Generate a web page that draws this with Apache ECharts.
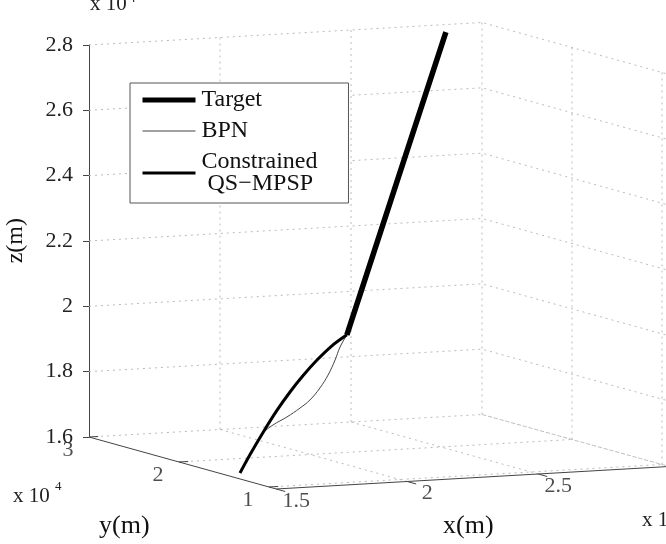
<!DOCTYPE html>
<html>
<head>
<meta charset="utf-8">
<script src="https://cdn.jsdelivr.net/npm/echarts@6/dist/echarts.min.js"></script>
<style>html,body{margin:0;padding:0;background:#fff}#c{width:666px;height:544px}</style>
</head>
<body>
<div id="c"></div>
<script>
// ---- data (units of 1e4 m) ----
const X_TICKS = [1.5, 2, 2.5, 3];
const Y_TICKS = [1, 2, 3];
const Z_TICKS = [1.6, 1.8, 2.0, 2.2, 2.4, 2.6, 2.8];
const X_RANGE = [1.5, 3];
const Y_RANGE = [0.92, 3];
const Z_RANGE = [1.6, 2.8];

const targetX = [1.969, 2.373, 2.777];
const targetY = [1.50, 2.126, 2.752];
const targetZ = [2.006, 2.403, 2.800];

const bpnX = [1.561, 1.592, 1.618, 1.649, 1.687, 1.740, 1.790, 1.828, 1.866, 1.897, 1.924, 1.943, 1.969];
const bpnY = [1.5, 1.5, 1.5, 1.5, 1.5, 1.5, 1.5, 1.5, 1.5, 1.5, 1.5, 1.5, 1.5];
const bpnZ = [1.602, 1.646, 1.685, 1.720, 1.743, 1.765, 1.790, 1.813, 1.848, 1.886, 1.931, 1.970, 2.006];

const qsX = [1.561, 1.599, 1.649, 1.702, 1.752, 1.802, 1.855, 1.912, 1.969];
const qsY = [1.5, 1.5, 1.5, 1.5, 1.5, 1.5, 1.5, 1.5, 1.5];
const qsZ = [1.602, 1.656, 1.722, 1.787, 1.841, 1.889, 1.934, 1.975, 2.006];

// ---- orthographic view (pixels per unit along each 3D axis) ----
const VIEW = {xh: 262, xv: 15, yh: 90, yv: 25, zv: 326.7};
function proj(x, y, z) {
  const a = x - X_RANGE[0], b = Y_RANGE[1] - y;
  return [a + b * VIEW.yh / VIEW.xh, z + (VIEW.xv * a - VIEW.yv * b) / VIEW.zv];
}
function pts(xs, ys, zs) { return xs.map((x, i) => proj(x, ys[i], zs[i])); }

const BRK = ['-', '-'];
function segs(list) { const out = []; list.forEach((s, i) => { if (i) out.push(BRK); s.forEach(p => out.push(p)); }); return out; }

const [x0, x1] = X_RANGE, [y0, y1] = Y_RANGE, [z0, z1] = Z_RANGE;
const gridSegs = [];
Z_TICKS.forEach(z => { gridSegs.push([proj(x0, y1, z), proj(x1, y1, z), proj(x1, y0, z)]); });
X_TICKS.filter(x => x > x0).forEach(x => {
  gridSegs.push([proj(x, y1, z0), proj(x, y1, z1)]);
  gridSegs.push([proj(x, y0, z0), proj(x, y1, z0)]);
});
Y_TICKS.filter(y => y < y1).forEach(y => {
  gridSegs.push([proj(x1, y, z0), proj(x1, y, z1)]);
  gridSegs.push([proj(x0, y, z0), proj(x1, y, z0)]);
});
const axisSegs = [[proj(x0, y1, z0), proj(x0, y0, z0), proj(x1, y0, z0)]];
X_TICKS.forEach(x => axisSegs.push([proj(x, y0, z0), proj(x, y0 - 0.1, z0)]));
Y_TICKS.forEach(y => axisSegs.push([proj(x0, y, z0), proj(x0 + 0.035, y, z0)]));

const serif = 'Liberation Serif';
const labelStyle = {show: true, fontFamily: serif, fontSize: 22, color: '#222'};
const AX_SCALE = VIEW.xh; // px per horizontal unit
const AX_MAX = 2.3;

const chart = echarts.init(document.getElementById('c'), null, {renderer: 'canvas'});
chart.setOption({
  animation: false,
  backgroundColor: '#fff',
  grid: {left: 89, top: 45, bottom: 107, width: AX_SCALE * AX_MAX, outerBoundsMode: 'none', containLabel: false},
  xAxis: {type: 'value', min: 0, max: AX_MAX, show: false},
  yAxis: {
    type: 'value', min: z0, max: z1, interval: 0.2,
    axisLine: {show: true, lineStyle: {color: '#444', width: 1}},
    axisTick: {show: true, length: 6, lineStyle: {color: '#444'}},
    axisLabel: {margin: 16, fontFamily: serif, fontSize: 22, color: '#222'},
    splitLine: {show: false}
  },
  legend: {
    left: 130, top: 83, orient: 'vertical',
    data: [
      {name: 'Target', lineStyle: {width: 5, color: '#000'}, itemStyle: {opacity: 0}},
      {name: 'BPN', lineStyle: {width: 1, color: '#444'}, itemStyle: {opacity: 0}},
      {name: 'Constrained QS−MPSP', lineStyle: {width: 3, color: '#000'}, itemStyle: {opacity: 0}}
    ],
    formatter: n => n === 'Constrained QS−MPSP' ? 'Constrained\n QS−MPSP' : n,
    itemWidth: 53, itemHeight: 10, itemGap: 7,
    padding: [5, 31, 7, 10],
    backgroundColor: '#fff', borderColor: '#555', borderWidth: 1,
    textStyle: {fontFamily: serif, fontSize: 24, color: '#111', lineHeight: 22, padding: [0, 0, 0, 1]}
  },
  series: [
    {type: 'line', name: 'grid', silent: true, clip: false, symbol: 'none', z: 1,
     data: segs(gridSegs), lineStyle: {color: '#bbb', width: 1, type: [2, 4]}},
    {type: 'line', name: 'axes', silent: true, clip: false, symbol: 'none', z: 2,
     data: segs(axisSegs), lineStyle: {color: '#444', width: 1}},
    {type: 'scatter', name: 'ylabels', silent: true, clip: false, symbolSize: 0,
     data: Y_TICKS.map(y => ({value: proj(x0, y, z0), name: String(y)})),
     label: Object.assign({}, labelStyle, {position: 'inside', offset: [-21, 13], formatter: p => p.name})},
    {type: 'scatter', name: 'xlabels', silent: true, clip: false, symbolSize: 0,
     data: X_TICKS.map(x => ({value: proj(x, y0, z0), name: String(x)})),
     label: Object.assign({}, labelStyle, {position: 'inside', offset: [20, 12], formatter: p => p.name})},
    {type: 'line', name: 'BPN', clip: false, symbol: 'none', smooth: 0.4, z: 3,
     data: pts(bpnX, bpnY, bpnZ), lineStyle: {color: '#444', width: 1}, itemStyle: {color: '#444'}},
    {type: 'line', name: 'Constrained QS−MPSP', clip: false, symbol: 'none', smooth: 0.3, z: 4,
     data: pts(qsX, qsY, qsZ), lineStyle: {color: '#000', width: 3}, itemStyle: {color: '#000'}},
    {type: 'line', name: 'Target', clip: false, symbol: 'none', z: 5,
     data: pts(targetX, targetY, targetZ), lineStyle: {color: '#000', width: 5.5}, itemStyle: {color: '#000'}}
  ],
  graphic: [
    {type: 'text', left: 90, top: -6, style: {text: 'x 10', font: '21px "Liberation Serif"', fill: '#222'}},
    {type: 'text', left: 129, top: -8, style: {text: '4', font: '13px "Liberation Serif"', fill: '#222'}},
    {type: 'text', left: 13, top: 486, style: {text: 'x 10', font: '21px "Liberation Serif"', fill: '#222'}},
    {type: 'text', left: 55, top: 480, style: {text: '4', font: '13px "Liberation Serif"', fill: '#222'}},
    {type: 'text', left: 642, top: 510, style: {text: 'x 10', font: '21px "Liberation Serif"', fill: '#222'}},
    {type: 'text', left: 4, top: 218, rotation: Math.PI / 2,
     style: {text: 'z(m)', font: '24px "Liberation Serif"', fill: '#111'}},
    {type: 'text', left: 99, top: 513, style: {text: 'y(m)', font: '26px "Liberation Serif"', fill: '#111'}},
    {type: 'text', left: 443, top: 513, style: {text: 'x(m)', font: '26px "Liberation Serif"', fill: '#111'}}
  ]
});
</script>
</body>
</html>
